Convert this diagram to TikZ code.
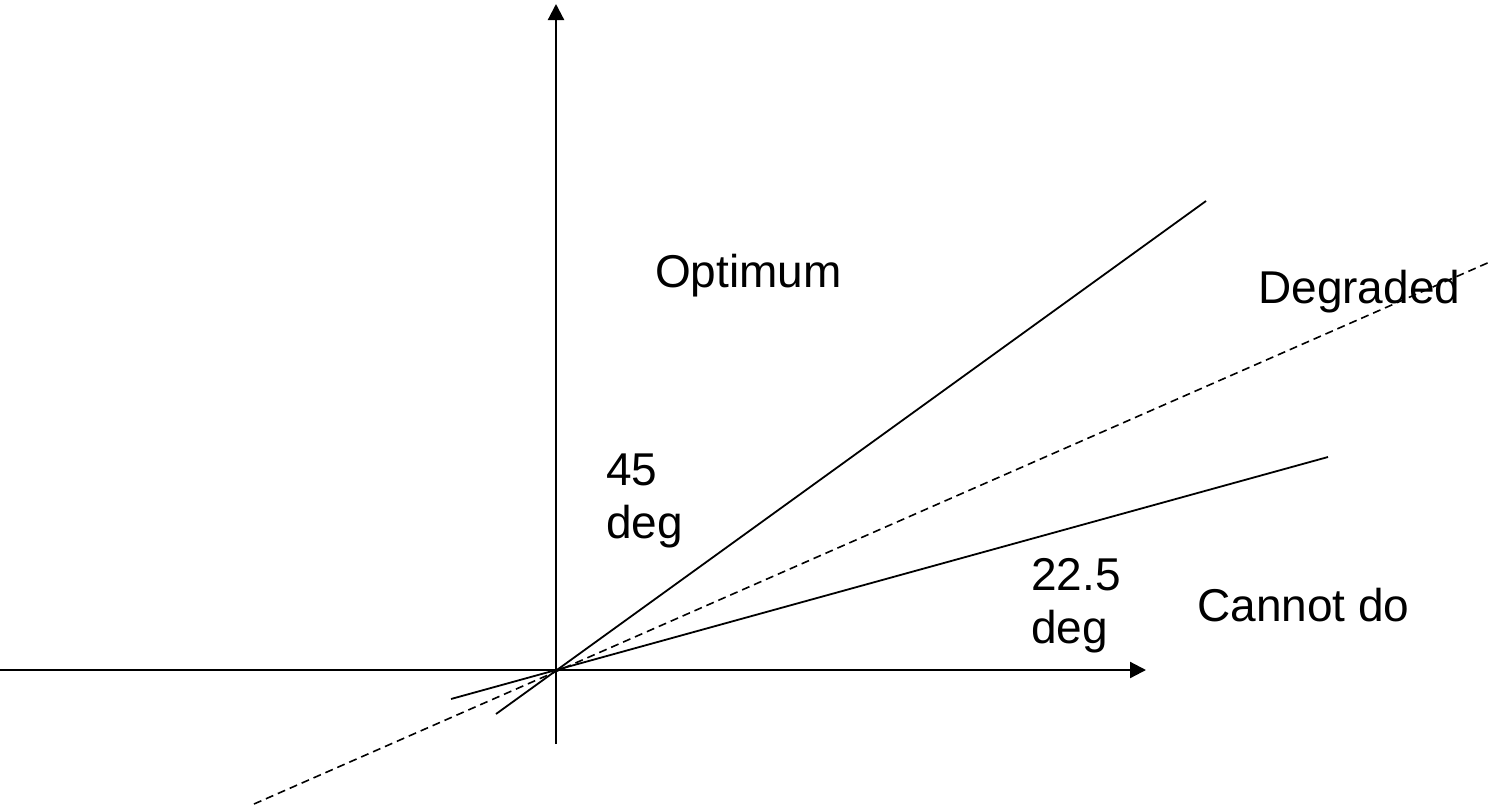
\documentclass[tikz,border=0pt]{standalone}
\usepackage{fontspec}
\setmainfont{Liberation Sans}
\usetikzlibrary{arrows.meta}
\begin{document}
\begin{tikzpicture}[x=1pt,y=-1pt,
  axis/.style={line width=2.2pt,-{Triangle[length=16pt,width=16pt]}},
  plainaxis/.style={line width=2.2pt},
  boundary/.style={line width=1.8pt},
  midline/.style={line width=1.6pt,dash pattern=on 8pt off 5pt},
  lbl/.style={anchor=base west,inner sep=0pt,font=\fontsize{46}{53}\selectfont}]
\useasboundingbox (0,0) rectangle (1505,809);
\coordinate (O) at (556,670);
\coordinate (xl) at (0,670);
\coordinate (xr) at (1146,670);
\coordinate (yb) at (556,744);
\coordinate (yt) at (556,4);
\coordinate (u1) at (496,714);
\coordinate (u2) at (1206,201);
\coordinate (l1) at (451,699);
\coordinate (l2) at (1328,457);
\coordinate (d1) at (254,804);
\coordinate (d2) at (1492,261);
\draw[axis] (xl) -- (xr);
\draw[axis] (yb) -- (yt);
\draw[boundary] (u1) -- (u2);
\draw[boundary] (l1) -- (l2);
\draw[midline] (d1) -- (d2);
\node[lbl] (opt) at (655,287) {Optimum};
\node[lbl] (deg) at (1258,303) {Degraded};
\node[lbl] (a45) at (606,485) {45};
\node[lbl] (d45) at (606,538) {deg};
\node[lbl] (a22) at (1031,590) {22.5};
\node[lbl] (d22) at (1031,643) {deg};
\node[lbl] (cnd) at (1197,621) {Cannot do};
\end{tikzpicture}
\end{document}
